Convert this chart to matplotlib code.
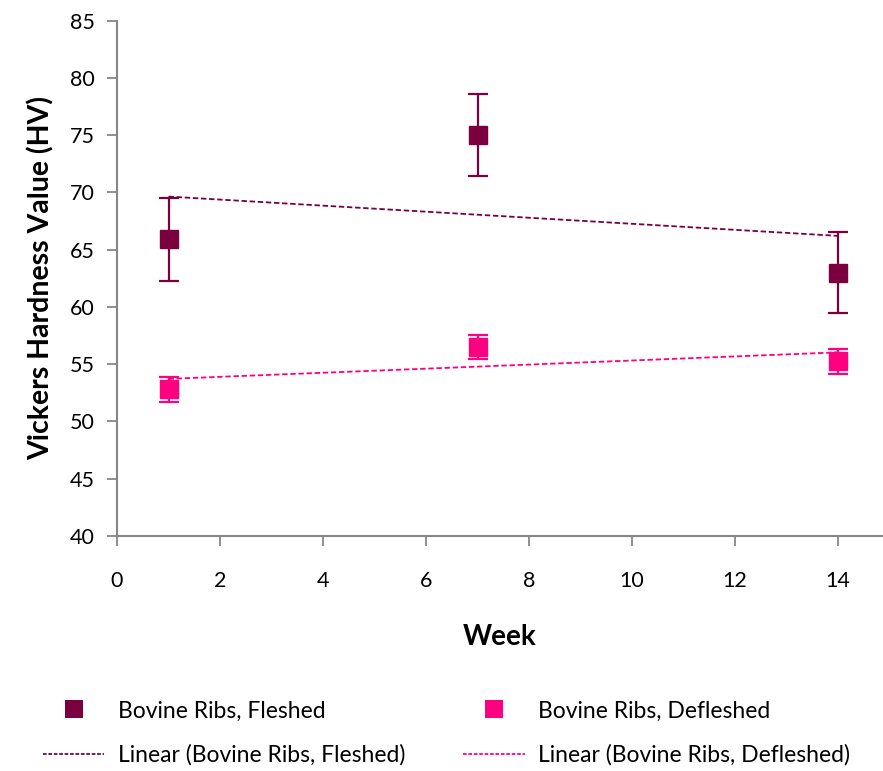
import numpy as np
import matplotlib
matplotlib.use("Agg")
import matplotlib.pyplot as plt
from matplotlib.lines import Line2D

plt.rcParams['font.family'] = ['Lato', 'DejaVu Sans']

weeks = [1, 7, 14]
fleshed = [65.9, 75.0, 63.0]
fleshed_err = [3.6, 3.6, 3.55]
defleshed = [52.8, 56.5, 55.25]
defleshed_err = [1.1, 1.07, 1.1]

series_names = ["Bovine Ribs, Fleshed", "Bovine Ribs, Defleshed"]
x_ticks = [0, 2, 4, 6, 8, 10, 12, 14]
y_ticks = [40, 45, 50, 55, 60, 65, 70, 75, 80, 85]

c_fleshed = "#7A0040"
c_defleshed = "#FF0080"
axis_grey = "#868686"

fig = plt.figure(figsize=(8.83, 7.71), dpi=100)
ax = fig.add_axes([0.1325, 0.3048, 0.8675, 0.6684])

handles = []
for y, e, col, name in [(fleshed, fleshed_err, c_fleshed, series_names[0]),
                        (defleshed, defleshed_err, c_defleshed, series_names[1])]:
    # linear trend line over the data range
    k, b = np.polyfit(weeks, y, 1)
    xs = np.array([min(weeks), max(weeks)])
    ax.plot(xs, k * xs + b, ls=(0, (3, 1.5)), color=col, lw=1.3, zorder=2)
    ax.errorbar(weeks, y, yerr=e, fmt='s', color=col, ecolor=col, mec=col,
                ms=13.5, elinewidth=1.6, capsize=7, capthick=1.6, zorder=3)
    handles.append((Line2D([], [], ls='none', marker='s', ms=13.5, mew=0, color=col), name))
    handles.append((Line2D([], [], ls=(0, (2, 1)), lw=1.3, color=col), f"Linear ({name})"))

ax.set_xlim(0, 14.87)
ax.set_ylim(40, 85)
ax.set_xticks(x_ticks)
ax.set_yticks(y_ticks)
for s in ["top", "right"]:
    ax.spines[s].set_visible(False)
for s in ["left", "bottom"]:
    ax.spines[s].set_color(axis_grey)
    ax.spines[s].set_linewidth(1.5)
ax.tick_params(axis='both', direction='out', length=7, width=1.3, color=axis_grey,
               labelsize=15.5, labelcolor='black')
ax.tick_params(axis='x', pad=18)
ax.tick_params(axis='y', pad=9)

ax.set_xlabel("Week", fontsize=20, fontweight='bold', labelpad=24)
ax.set_ylabel("Vickers Hardness Value (HV)", fontsize=20.5, fontweight='bold', labelpad=11)

fig.legend([h for h, _ in handles], [l for _, l in handles], ncol=2,
           loc='lower center', bbox_to_anchor=(0.5057, -0.02), frameon=False,
           fontsize=16.5, handlelength=2.7, handletextpad=0.6, columnspacing=2.5,
           labelspacing=1.0, markerscale=1.0)

fig.savefig("out.png", dpi=100)
